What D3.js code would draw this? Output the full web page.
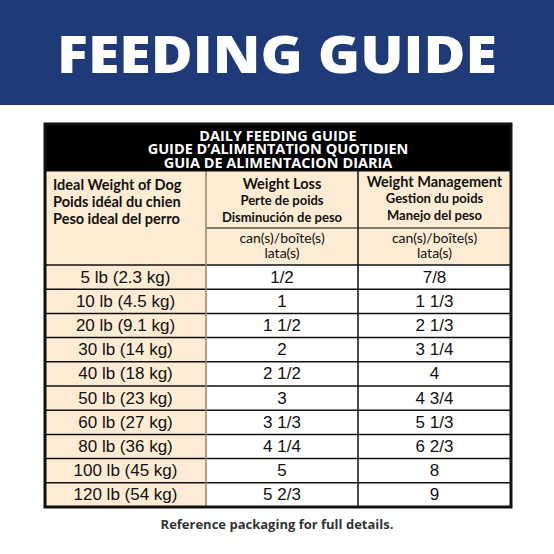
<!DOCTYPE html><html><head><meta charset="utf-8"><script src="https://d3js.org/d3.v7.min.js"></script>
<style>body{margin:0;background:#fff}</style></head><body><script>
const titleLines=["DAILY FEEDING GUIDE","GUIDE D’ALIMENTATION QUOTIDIEN","GUIA DE ALIMENTACION DIARIA"];
const colHeads=[["Ideal Weight of Dog","Poids idéal du chien","Peso ideal del perro"],["Weight Loss","Perte de poids","Disminución de peso"],["Weight Management","Gestion du poids","Manejo del peso"]];
const units=["can(s)/boîte(s)","lata(s)"];
const weights=["5 lb (2.3 kg)","10 lb (4.5 kg)","20 lb (9.1 kg)","30 lb (14 kg)","40 lb (18 kg)","50 lb (23 kg)","60 lb (27 kg)","80 lb (36 kg)","100 lb (45 kg)","120 lb (54 kg)"];
const lossCans=["1/2","1","1 1/2","2","2 1/2","3","3 1/3","4 1/4","5","5 2/3"];
const mgmtCans=["7/8","1 1/3","2 1/3","3 1/4","4","4 3/4","5 1/3","6 2/3","8","9"];

const svg=d3.select("body").append("svg").attr("width",554).attr("height",554);
svg.append("rect").attr("width",554).attr("height",105).attr("fill","#1e3a78");
svg.append("text").attr("x",277).attr("y",73).attr("text-anchor","middle").attr("fill","#fff")
 .attr("font-family","Open Sans").attr("font-weight",800).attr("font-size",52).attr("textLength",440).attr("lengthAdjust","spacingAndGlyphs").text("FEEDING GUIDE");
const L=45,R=511,T=124,B=507;
const xs=[L,206,358,R];
const peach="#fdebd3";
svg.append("rect").attr("x",L).attr("y",T).attr("width",R-L).attr("height",47).attr("fill","#000");
titleLines.forEach((t,i)=>svg.append("text").attr("x",278).attr("y",137+i*13.5).attr("text-anchor","middle").attr("fill","#fff")
 .attr("font-family","Open Sans").attr("font-weight",700).attr("font-size",14.5).attr("dominant-baseline","middle").text(t));
const y0=171,y1=228,y2=265;
svg.append("rect").attr("x",L).attr("y",y0).attr("width",R-L).attr("height",y2-y0).attr("fill",peach);
const ff="Lato, 'Open Sans'";
colHeads.forEach((c,j)=>{
  const cx=j==0?L+8:(xs[j]+xs[j+1])/2, anchor=j==0?"start":"middle";
  c.forEach((t,i)=>svg.append("text").attr("x",cx).attr("y",(j==0?186:j==1?185:183)+i*17).attr("text-anchor",anchor)
   .attr("font-family",ff).attr("font-weight",700).attr("font-size",i==0||j==0?14.5:13).attr("fill","#111").attr("dominant-baseline","middle").text(t));
  if(j>0) units.forEach((u,i)=>svg.append("text").attr("x",cx).attr("y",239+i*15).attr("text-anchor","middle")
   .attr("font-family",ff).attr("font-size",14).attr("fill","#111").attr("dominant-baseline","middle").text(u));
});
const y=d3.scaleBand().domain(weights).range([y2,B]);
const x=d3.scaleOrdinal().domain([0,1,2]).range([(xs[0]+xs[1])/2,(xs[1]+xs[2])/2,(xs[2]+xs[3])/2]);
svg.append("rect").attr("x",L).attr("y",y2).attr("width",xs[1]-L).attr("height",B-y2).attr("fill",peach);
const rows=svg.selectAll("g.r").data(weights.map((w,i)=>[w,lossCans[i],mgmtCans[i]])).join("g");
rows.each(function(r){const g=d3.select(this);const yy=y(r[0])+y.bandwidth()/2;
  r.forEach((v,j)=>g.append("text").attr("x",x(j)).attr("y",yy+1).attr("text-anchor","middle").attr("dominant-baseline","middle")
   .attr("font-family","'Liberation Sans'").attr("font-size",17).attr("fill","#111").text(v));
  g.append("line").attr("x1",L).attr("x2",R).attr("y1",y(r[0])).attr("y2",y(r[0])).attr("stroke","#111").attr("stroke-width",1.5);
});
svg.append("line").attr("x1",xs[1]).attr("x2",R).attr("y1",y1).attr("y2",y1).attr("stroke","#111").attr("stroke-width",1.2);
[1,2].forEach(j=>svg.append("line").attr("x1",xs[j]).attr("x2",xs[j]).attr("y1",y0).attr("y2",B).attr("stroke",j==1?"#a08060":"#111").attr("stroke-width",1.5));
svg.append("line").attr("x1",L).attr("x2",R).attr("y1",y0).attr("y2",y0).attr("stroke","#111").attr("stroke-width",1.2);
svg.append("rect").attr("x",L).attr("y",T).attr("width",R-L).attr("height",B-T).attr("fill","none").attr("stroke","#111").attr("stroke-width",3);
svg.append("text").attr("x",277).attr("y",529).attr("text-anchor","middle").attr("font-family","'Open Sans'").attr("font-weight",700)
 .attr("font-size",13).attr("fill","#333").text("Reference packaging for full details.");
</script></body></html>
